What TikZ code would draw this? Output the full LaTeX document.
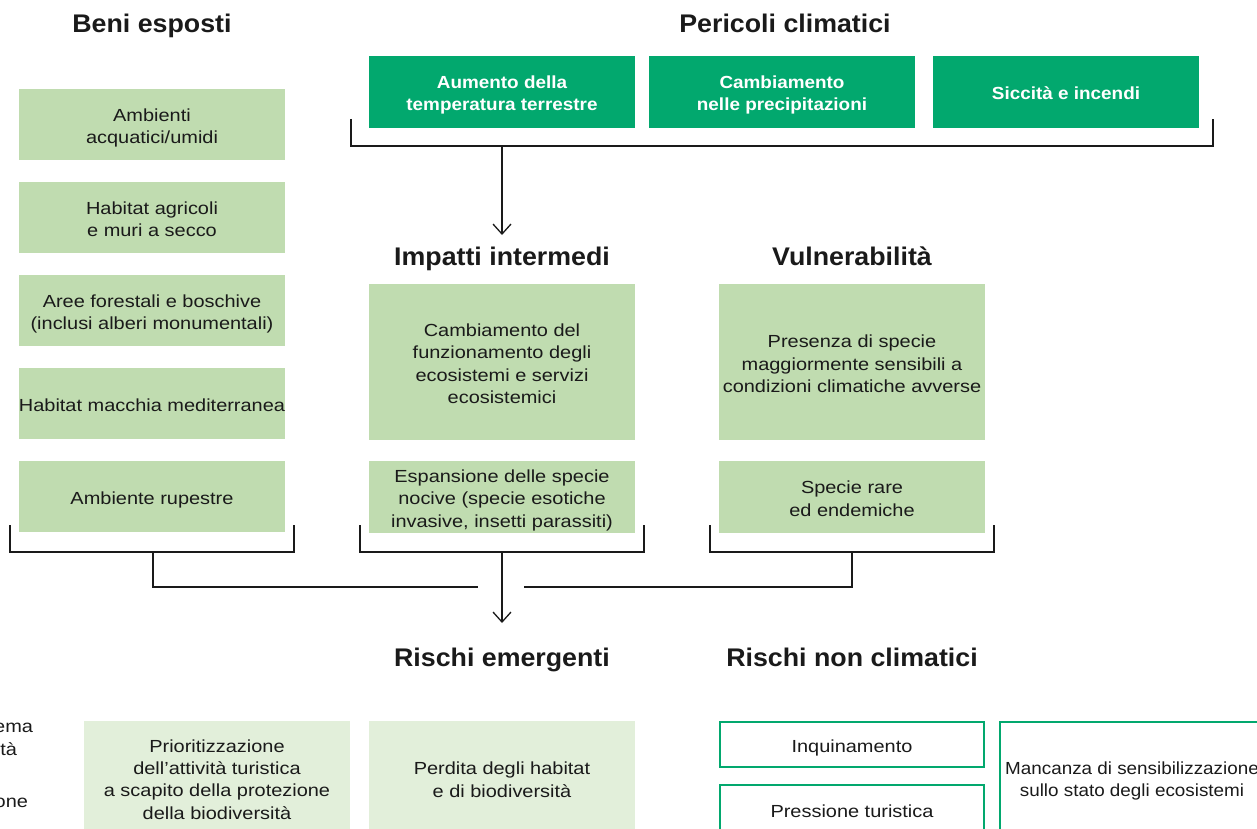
\documentclass[tikz,border=0pt]{standalone}
\usepackage{fontspec}
\usepackage{graphicx}
\setmainfont{Liberation Sans}
\newfontfamily\bodyf{Liberation Sans}[FakeStretch=1.14]
\newfontfamily\hazf{Liberation Sans}[FakeStretch=1.08]
\newfontfamily\headf{Liberation Sans}[FakeStretch=1.05]
\usetikzlibrary{arrows.meta}
\definecolor{hazgreen}{HTML}{02A86E}
\definecolor{assetgreen}{HTML}{C0DCB0}
\definecolor{riskgreen}{HTML}{E2EFDA}
\definecolor{ink}{HTML}{1A1A1A}

% every line of a box sits on a strut of the same size, so boxes centre
% their text the same way whatever letters it has
\newcommand\cellstrut{\setbox\strutbox\hbox{\vrule height 19pt depth 3pt width 0pt}}
\newcommand\cellfont{\bodyf\fontsize{17.5}{22}\selectfont\cellstrut}
\newcommand\hazfont{\hazf\bfseries\fontsize{17.5}{22}\selectfont\cellstrut}
\newcommand\celltext[1]{\begin{tabular}{@{}c@{}}#1\end{tabular}}

\begin{document}
\begin{tikzpicture}[x=1pt,y=-1pt,
  every node/.style={inner sep=0pt, outer sep=0pt},
  heading/.style={font=\headf\bfseries\fontsize{25.5}{30}\selectfont, text=ink, anchor=base},
  cell/.style={minimum width=266pt, font=\cellfont, text=ink},
  asset/.style={cell, fill=assetgreen, minimum height=71pt},
  hazard/.style={cell, fill=hazgreen, minimum height=72pt, text=white, font=\hazfont},
  risk/.style={cell, fill=riskgreen, minimum height=114pt},
  other/.style={cell, draw=hazgreen, line width=2pt, minimum width=264pt},
  fragment/.style={font=\bodyf\fontsize{17.5}{22}\selectfont, text=ink, anchor=base east},
  link/.style={draw=ink, line width=1.3pt},
  arrowlink/.style={link, -{Straight Barb[length=10pt,width=18pt,line width=1.3pt]}},
]
\clip (0,0) rectangle (1257,829);

% ---- headings
\node[heading] (tBeni) at (152,33) {Beni esposti};
\node[heading] (tPer)  at (785,33) {Pericoli climatici};
\node[heading] (tImp)  at (502,265) {Impatti intermedi};
\node[heading] (tVul)  at (852,265) {Vulnerabilità};
\node[heading] (tRis)  at (502,666) {Rischi emergenti};
\node[heading] (tNon)  at (852,666) {Rischi non climatici};

% ---- climate hazards
\node[hazard] (h1) at (502,92)  {\celltext{Aumento della\\temperatura terrestre}};
\node[hazard] (h2) at (782,92)  {\celltext{Cambiamento\\nelle precipitazioni}};
\node[hazard] (h3) at (1066,92) {\celltext{Siccità e incendi}};

% ---- exposed assets
\node[asset] (a1) at (152,124.5) {\celltext{Ambienti\\acquatici/umidi}};
\node[asset] (a2) at (152,217.5) {\celltext{Habitat agricoli\\e muri a secco}};
\node[asset] (a3) at (152,310.5) {\celltext{Aree forestali e boschive\\(inclusi alberi monumentali)}};
\node[asset] (a4) at (152,403.5) {\celltext{Habitat macchia mediterranea}};
\node[asset] (a5) at (152,496.5) {\celltext{Ambiente rupestre}};

% ---- intermediate impacts
\node[asset, minimum height=156pt] (i1) at (502,362)
  {\celltext{Cambiamento del\\funzionamento degli\\ecosistemi e servizi\\ecosistemici}};
\node[asset, minimum height=72pt] (i2) at (502,497)
  {\celltext{Espansione delle specie\\nocive (specie esotiche\\invasive, insetti parassiti)}};

% ---- vulnerability
\node[asset, minimum height=156pt] (v1) at (852,362)
  {\celltext{Presenza di specie\\maggiormente sensibili a\\condizioni climatiche avverse}};
\node[asset, minimum height=72pt] (v2) at (852,497)
  {\celltext{Specie rare\\ed endemiche}};

% ---- emerging risks
\node[fragment] (f1) at (33,732) {ema};
\node[fragment] (f2) at (17,755) {tà};
\node[fragment] (f3) at (28,807) {one};
\node[risk] (r1) at (217,778)
  {\celltext{Prioritizzazione\\dell’attività turistica\\a scapito della protezione\\della biodiversità}};
\node[risk] (r2) at (502,778) {\celltext{Perdita degli habitat\\e di biodiversità}};

% ---- non-climatic risks
\node[other, minimum height=45pt] (n1) at (852,744.5) {\celltext{Inquinamento}};
\node[other, minimum height=49pt] (n2) at (852,809.5) {\celltext{Pressione turistica}};
\node[other, minimum height=112pt] (n3) at (1132,778)
  {\scalebox{0.945}[1]{\celltext{Mancanza di sensibilizzazione\\sullo stato degli ecosistemi}}};

% ---- bracket under the hazards and arrow to the impacts
\coordinate (hbL) at (351,119);
\coordinate (hbR) at (1213,119);
\coordinate (hbM) at (502,146);
\coordinate (impIn) at (502,235);
\draw[link] (hbL) -- (351,146) -- (1213,146) -- (hbR);
\draw[arrowlink] (hbM) -- (impIn);

% ---- brackets under the three columns
\coordinate (lbL) at (10,525);  \coordinate (lbR) at (294,525);
\coordinate (mbL) at (360,525); \coordinate (mbR) at (644,525);
\coordinate (rbL) at (710,525); \coordinate (rbR) at (994,525);
\draw[link] (lbL) -- (10,552) -- (294,552) -- (lbR);
\draw[link] (mbL) -- (360,552) -- (644,552) -- (mbR);
\draw[link] (rbL) -- (710,552) -- (994,552) -- (rbR);

% ---- joining lines towards the emerging risks
\coordinate (lbM) at (153,552);
\coordinate (rbM) at (852,552);
\coordinate (mbM) at (502,552);
\coordinate (gapL) at (478,587);
\coordinate (gapR) at (524,587);
\coordinate (risIn) at (502,623);
\draw[link] (lbM) -- (153,587) -- (gapL);
\draw[link] (rbM) -- (852,587) -- (gapR);
\draw[arrowlink] (mbM) -- (risIn);
\end{tikzpicture}
\end{document}
